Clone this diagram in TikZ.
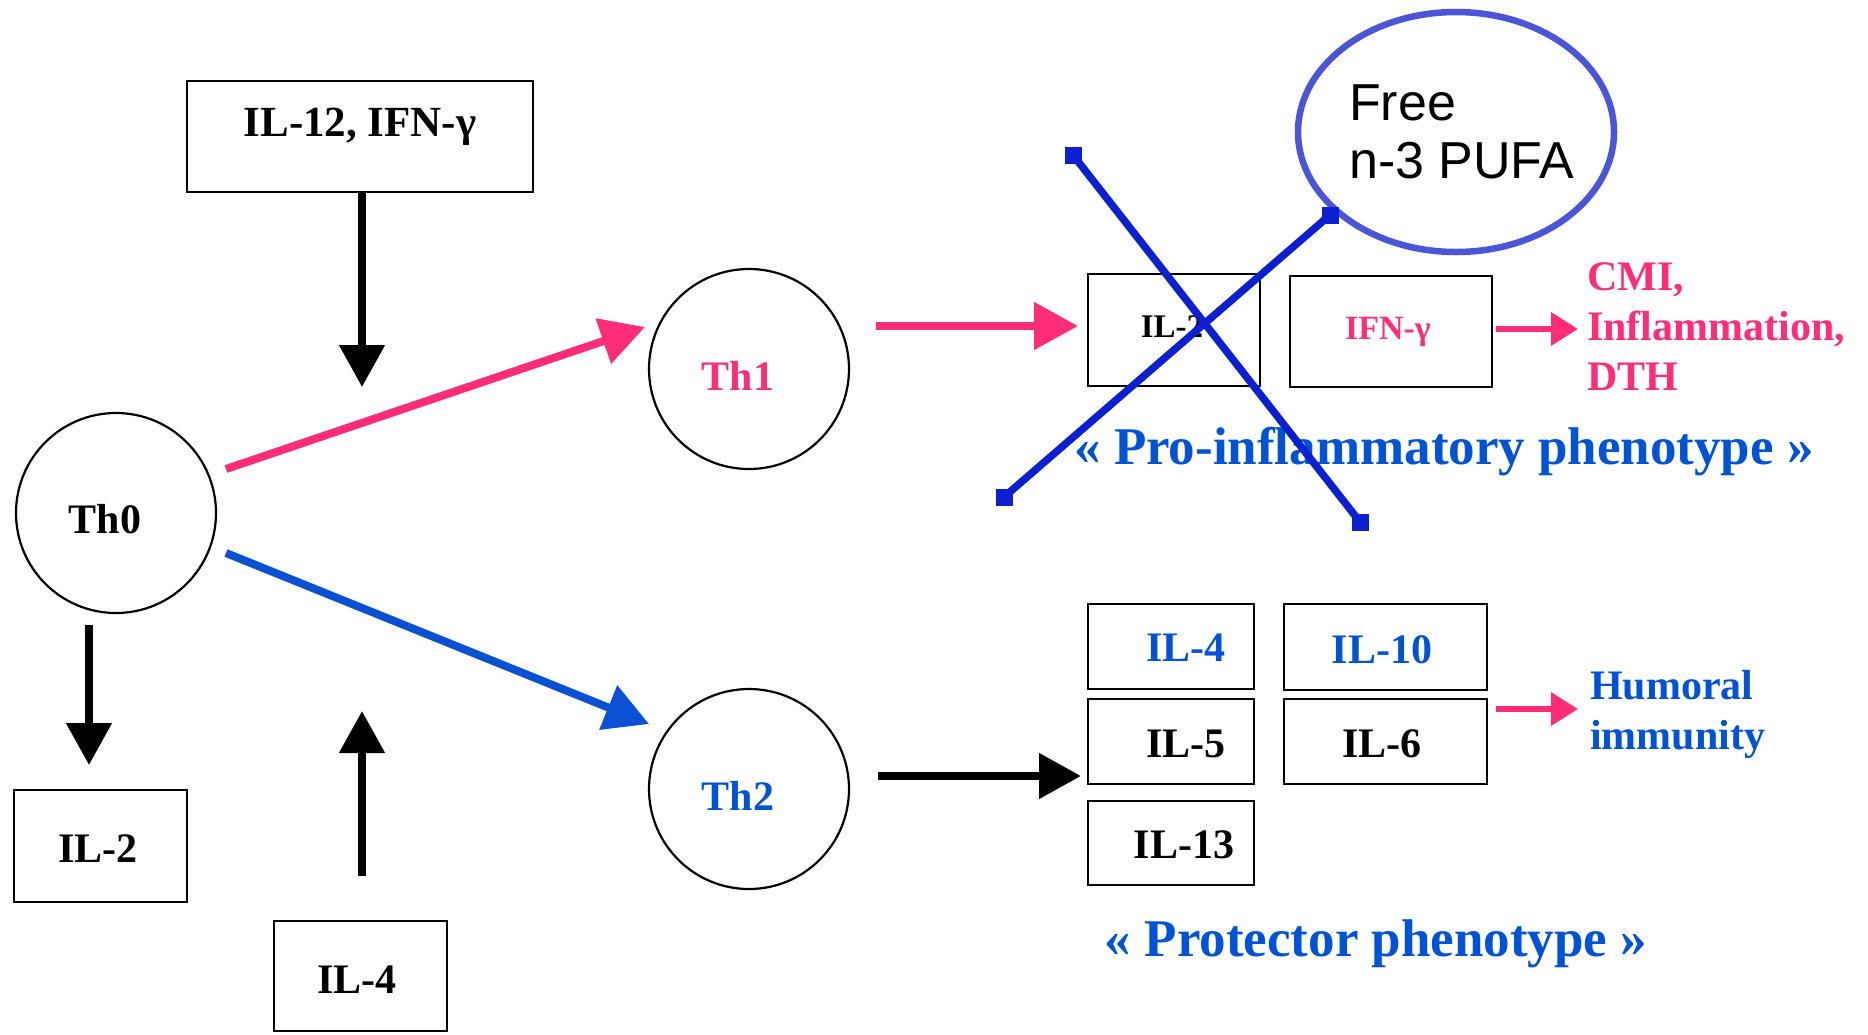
\documentclass[tikz,border=0pt]{standalone}
\usepackage{fontspec}
\setmainfont{Liberation Serif}
\newfontfamily\helv{Liberation Sans}
\usetikzlibrary{arrows.meta,shapes.geometric}
\definecolor{pk}{RGB}{255,45,120}
\definecolor{bt}{RGB}{0,82,214}
\definecolor{ba}{RGB}{10,80,210}
\definecolor{bx}{RGB}{12,32,210}
\definecolor{el}{RGB}{75,85,215}
\newcommand{\myfs}[2]{\fontsize{#1}{#2}\selectfont}
\tikzset{
  box/.style={draw=black,line width=2.5pt,rectangle,inner sep=0pt},
  cell/.style={draw=black,line width=2.2pt,circle,inner sep=0pt,minimum size=200pt},
  txt/.style={inner sep=0pt,font=\bfseries\myfs{42}{50}},
  blk/.style={line width=8pt,black,-{Triangle[length=42pt,width=44pt]}},
  pka/.style={line width=8pt,pk,-{Triangle[length=44pt,width=46pt]}},
  pks/.style={line width=6.5pt,pk,-{Triangle[length=27pt,width=32pt]}},
  bla/.style={line width=8pt,ba,-{Triangle[length=44pt,width=46pt]}},
  xline/.style={line width=7.5pt,bx},
  xend/.style={fill=bx,rectangle,minimum size=17pt,inner sep=0pt},
}
\begin{document}
\begin{tikzpicture}[x=1pt,y=-1pt]
\useasboundingbox (0,0) rectangle (1868,1034);
% left side
\node[box,minimum width=346pt,minimum height=111pt] (il12box) at (360,136.5) {};
\node[txt,font=\bfseries\myfs{43}{50}] (il12t) at (360,127) {IL-12, IFN-γ};
\node[cell] (th0) at (116,513) {};
\node[txt] (th0t) at (105,519) {Th0};
\node[cell] (th1) at (749,369) {};
\node[txt,text=pk] (th1t) at (738,376) {Th1};
\node[cell] (th2) at (749,789) {};
\node[txt,text=bt] (th2t) at (738,796) {Th2};
\node[box,minimum width=173pt,minimum height=112pt] (il2box) at (100.5,846) {};
\node[txt] (il2t) at (98,849) {IL-2};
\node[box,minimum width=173pt,minimum height=110pt] (il4box) at (360.5,976) {};
\node[txt] (il4t) at (357,980) {IL-4};
% arrow endpoints
\coordinate (a1s) at (362,192);
\coordinate (a1e) at (362,387);
\coordinate (a2s) at (89,625);
\coordinate (a2e) at (89,765);
\coordinate (a3s) at (362,876);
\coordinate (a3e) at (362,711);
\coordinate (p1s) at (226,469);
\coordinate (p1e) at (645,327);
\coordinate (b1s) at (226,553);
\coordinate (b1e) at (649,724);
\coordinate (p2s) at (876,326);
\coordinate (p2e) at (1078,326);
\coordinate (k2s) at (878,776);
\coordinate (k2e) at (1081,776);
\draw[blk] (a1s) -- (a1e);
\draw[blk] (a2s) -- (a2e);
\draw[blk] (a3s) -- (a3e);
\draw[pka] (p1s) -- (p1e);
\draw[bla] (b1s) -- (b1e);
\draw[pka] (p2s) -- (p2e);
\draw[blk] (k2s) -- (k2e);
% right top
\node[box,minimum width=172pt,minimum height=112pt] (r2box) at (1174,330) {};
\node[txt,font=\bfseries\myfs{33}{40}] (r2t) at (1172,327) {IL-2};
\node[box,minimum width=202pt,minimum height=111pt] (ifnbox) at (1391,331.5) {};
\node[txt,font=\bfseries\myfs{34}{40},text=pk] (ifnt) at (1388,332) {IFN-γ};
\coordinate (p3s) at (1496,329);
\coordinate (p3e) at (1578,329);
\draw[pks] (p3s) -- (p3e);
\node[txt,text=pk,align=left,anchor=west] (cmi) at (1587,327) {CMI,\\Inflammation,\\DTH};
\node[txt,text=bt,font=\bfseries\myfs{53}{60}] (proinf) at (1444,452) {« Pro-inflammatory phenotype »};
% ellipse
\node[draw=el,line width=6.5pt,ellipse,minimum width=316pt,minimum height=240pt,inner sep=0pt] (pufa) at (1456,132) {};
\node[inner sep=0pt,align=left,anchor=west,font=\helv\myfs{52}{58}] (pufat) at (1349,132) {Free\\n-3 PUFA};
% cross
\node[xend] (x1a) at (1073,155) {};
\node[xend] (x1b) at (1360,522) {};
\node[xend] (x2a) at (1004,497) {};
\node[xend] (x2b) at (1330,215) {};
\draw[xline] (x1a.center) -- (x1b.center);
\draw[xline] (x2a.center) -- (x2b.center);
% right bottom
\node[box,minimum width=166pt,minimum height=85pt] (r4box) at (1171,646.5) {};
\node[txt,text=bt] (r4t) at (1186,648) {IL-4};
\node[box,minimum width=166pt,minimum height=85pt] (r5box) at (1171,741.5) {};
\node[txt] (r5t) at (1186,744) {IL-5};
\node[box,minimum width=166pt,minimum height=84pt] (r13box) at (1171,843) {};
\node[txt] (r13t) at (1184,845) {IL-13};
\node[box,minimum width=203pt,minimum height=86pt] (r10box) at (1385.5,647) {};
\node[txt,text=bt] (r10t) at (1382,650) {IL-10};
\node[box,minimum width=203pt,minimum height=85pt] (r6box) at (1385.5,741.5) {};
\node[txt] (r6t) at (1382,744) {IL-6};
\coordinate (p4s) at (1496,709);
\coordinate (p4e) at (1578,709);
\draw[pks] (p4s) -- (p4e);
\node[txt,text=bt,align=left,anchor=west] (hum) at (1590,714) {Humoral\\immunity};
\node[txt,text=bt,font=\bfseries\myfs{53}{60}] (prot) at (1376,944) {« Protector phenotype »};
\end{tikzpicture}
\end{document}
